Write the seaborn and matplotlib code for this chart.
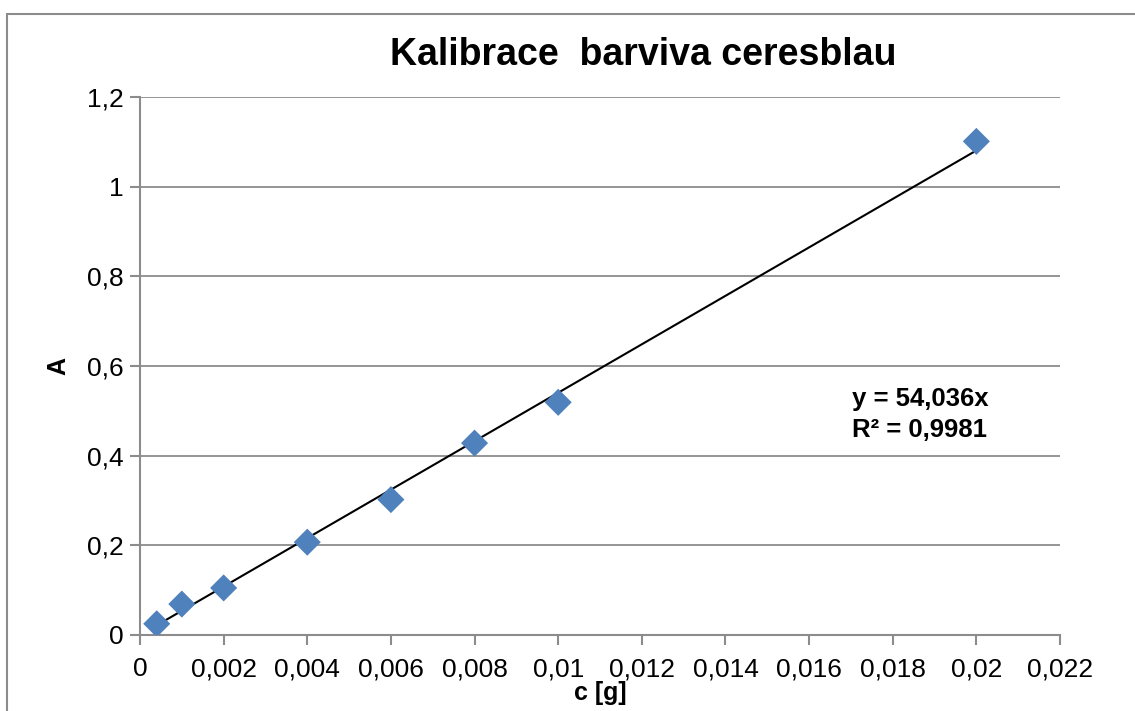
import matplotlib
matplotlib.use("Agg")
import matplotlib.pyplot as plt
from matplotlib.patches import Rectangle
from matplotlib.ticker import FuncFormatter, MultipleLocator
import numpy as np
import pandas as pd
import seaborn as sns

# data
conc = [0.0004, 0.001, 0.002, 0.004, 0.006, 0.008, 0.01, 0.02]
absorb = [0.025, 0.069, 0.105, 0.207, 0.302, 0.428, 0.519, 1.101]
slope = 54.036
r2 = 0.9981

title = "Kalibrace  barviva ceresblau"
xlabel = "c [g]"
ylabel = "A"


def comma(v, pos):
    return ("%g" % round(v, 6)).replace(".", ",")


def main():
    sns.set_style("white")
    plt.rcParams["font.family"] = ["Liberation Sans", "DejaVu Sans"]
    plt.rcParams["text.color"] = "black"
    plt.rcParams["axes.labelcolor"] = "black"

    df = pd.DataFrame({"c": conc, "A": absorb})

    fig = plt.figure(figsize=(11.35, 7.11), dpi=100)
    ax = fig.add_axes([140 / 1135, 1 - 635 / 711, 920 / 1135, 538 / 711])

    # chart border (Excel frame)
    fig.patches.append(Rectangle((7 / 1135, -0.1), 2, 1.1 - 14 / 711,
                                 transform=fig.transFigure, fill=False,
                                 edgecolor="#8c8c8c", lw=1.5))

    sns.scatterplot(data=df, x="c", y="A", ax=ax, marker="D", s=190,
                    color="#4F81BD", edgecolor="none", zorder=3)

    # trendline through origin
    tx = np.array([min(conc), max(conc)])
    sns.lineplot(x=tx, y=slope * tx, ax=ax, color="black", lw=1.5, zorder=2)

    ax.set_xlim(0, 0.022)
    ax.set_ylim(0, 1.2)
    ax.xaxis.set_major_locator(MultipleLocator(0.002))
    ax.yaxis.set_major_locator(MultipleLocator(0.2))
    ax.xaxis.set_major_formatter(FuncFormatter(comma))
    ax.yaxis.set_major_formatter(FuncFormatter(comma))

    ax.grid(axis="y", color="#8c8c8c", lw=1.3)
    ax.set_axisbelow(True)
    for s in ["top", "right"]:
        ax.spines[s].set_visible(False)
    for s in ["left", "bottom"]:
        ax.spines[s].set_color("#8c8c8c")
        ax.spines[s].set_linewidth(1.5)
    ax.tick_params(axis="both", direction="out", length=7, width=1.5,
                   color="#8c8c8c", labelcolor="black", labelsize=19, pad=5)
    ax.tick_params(axis="x", pad=9)
    ax.tick_params(left=True, bottom=True)

    ax.set_xlabel(xlabel, fontsize=18, fontweight="bold", labelpad=0)
    ax.set_ylabel(ylabel, fontsize=18, fontweight="bold", labelpad=12)
    fig.text(0.567, 1 - 55 / 711, title, fontsize=27, fontweight="bold",
             ha="center", va="center")

    ax.text(0.01703, 0.553, "y = 54,036x\nR² = 0,9981", fontsize=18.5,
            fontweight="bold", ha="left", va="top", linespacing=1.35)

    fig.savefig("out.png", dpi=100)


if __name__ == "__main__":
    main()
